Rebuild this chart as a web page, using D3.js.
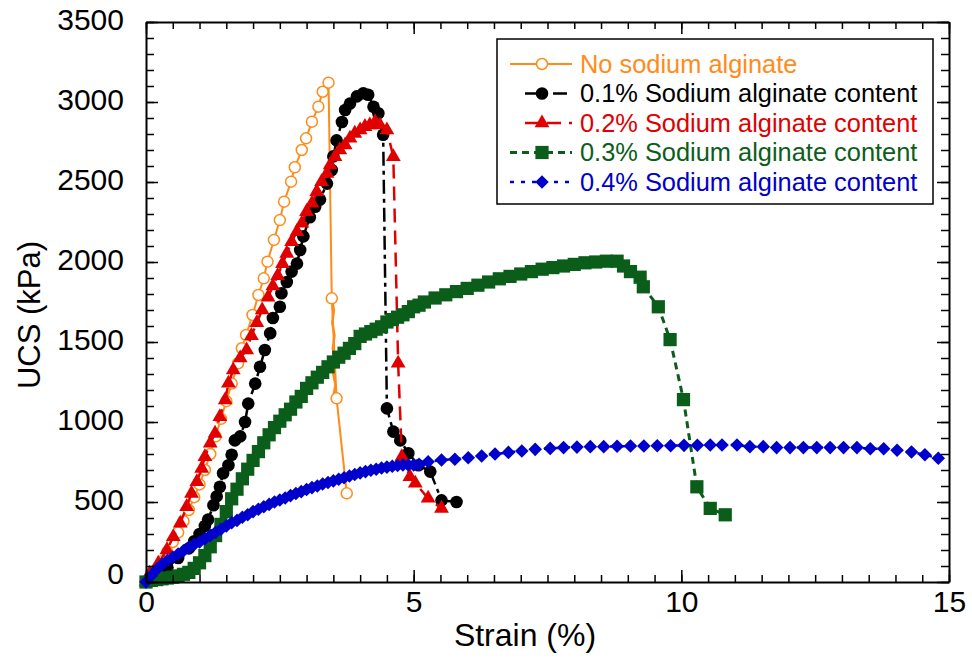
<!DOCTYPE html>
<html>
<head>
<meta charset="utf-8">
<script src="https://cdn.jsdelivr.net/npm/d3@7"></script>
<style>
  body { margin: 0; background: #fff; }
  svg text { font-family: "Liberation Sans", Arial, sans-serif; }
</style>
</head>
<body>
<div id="plot"></div>
<script>
// values: strain (%) and UCS (kPa)
var noSaStrain = [0,0.1,0.2,0.3,0.4,0.5,0.6,0.7,0.8,0.9,1.0,1.1,1.2,1.3,1.4,1.5,1.6,1.72,1.79,1.87,1.99,2.10,2.20,2.27,2.39,2.50,2.58,2.71,2.78,2.91,2.99,3.10,3.22,3.30,3.41,3.47,3.56,3.75];
var noSaUcs    = [0,35,80,130,190,250,310,380,450,530,610,700,800,910,1020,1130,1240,1367,1461,1544,1669,1794,1898,2002,2138,2262,2377,2502,2592,2700,2773,2877,2971,3064,3121,1773,1148,554];
// the fast unloading part after the peak (line only, no symbols)
var noSaDropStrain = [3.47,3.51,3.48,3.52,3.49,3.53,3.50,3.54,3.51,3.56];
var noSaDropUcs    = [1773,1700,1620,1540,1460,1380,1300,1230,1180,1148];

var sa01Strain = [0,0.2,0.4,0.6,0.8,0.9,1.0,1.1,1.16,1.26,1.32,1.38,1.44,1.54,1.60,1.66,1.76,1.85,1.91,2.04,2.13,2.22,2.32,2.37,2.50,2.53,2.63,2.72,2.82,2.88,2.94,3.06,3.16,3.25,3.38,3.47,3.50,3.56,3.66,3.72,3.81,3.94,4.06,4.15,4.25,4.34,4.43,4.50,4.62,4.75,4.90,5.09,5.31,5.52,5.80];
var sa01Ucs    = [0,40,90,150,210,255,300,350,390,480,535,595,680,730,795,885,910,1000,1115,1240,1345,1450,1555,1650,1720,1805,1875,1940,1990,2075,2160,2280,2345,2390,2490,2575,2660,2760,2875,2950,2990,3035,3055,3045,2970,2930,2795,1085,940,885,805,730,690,510,500];

var sa02Strain = [0,0.07,0.23,0.39,0.51,0.64,0.76,0.85,0.95,1.04,1.10,1.20,1.29,1.38,1.48,1.54,1.63,1.76,1.88,1.97,2.07,2.17,2.28,2.37,2.46,2.55,2.63,2.72,2.82,2.91,3.00,3.10,3.19,3.28,3.38,3.44,3.53,3.62,3.72,3.81,3.90,4.00,4.09,4.18,4.28,4.37,4.50,4.62,4.71,4.78,4.93,5.03,5.27,5.52];
var sa02Ucs    = [0,54,117,200,283,367,471,554,627,710,783,867,929,1033,1138,1242,1325,1400,1450,1540,1620,1700,1780,1850,1915,1990,2054,2127,2190,2242,2315,2367,2440,2502,2554,2606,2658,2700,2731,2773,2804,2825,2846,2856,2877,2856,2825,2658,1367,783,658,617,523,460];

var sa03Strain = [0,0.1,0.2,0.3,0.4,0.5,0.6,0.7,0.8,0.9,1.0,1.1,1.2,1.3,1.4,1.5,1.6,1.7,1.8,1.9,2.0,2.1,2.2,2.3,2.4,2.5,2.6,2.7,2.8,2.9,3.0,3.1,3.2,3.3,3.4,3.5,3.6,3.7,3.8,3.9,4.0,4.1,4.2,4.3,4.4,4.5,4.6,4.7,4.8,4.9,5.0,5.1,5.2,5.4,5.6,5.8,6.0,6.2,6.4,6.6,6.8,7.0,7.2,7.4,7.6,7.8,8.0,8.2,8.4,8.6,8.8,8.92,9.05,9.23,9.29,9.57,9.79,10.04,10.29,10.54,10.82];
var sa03Ucs    = [0,10,15,20,25,30,38,48,60,85,120,165,220,290,360,440,520,580,645,705,760,815,870,920,965,1005,1045,1080,1125,1160,1210,1245,1280,1310,1345,1375,1405,1430,1460,1490,1535,1550,1565,1580,1595,1625,1640,1655,1670,1690,1720,1730,1750,1775,1795,1815,1835,1855,1875,1895,1910,1925,1940,1955,1965,1975,1985,1995,2000,2005,2005,1975,1940,1905,1845,1720,1515,1140,595,460,420];

var sa04Strain = [0,0.1,0.2,0.3,0.4,0.5,0.6,0.7,0.8,0.9,1.0,1.1,1.2,1.3,1.4,1.5,1.6,1.7,1.8,1.9,2.0,2.1,2.2,2.3,2.4,2.5,2.6,2.7,2.8,2.9,3.0,3.1,3.2,3.3,3.4,3.5,3.6,3.7,3.8,3.9,4.0,4.1,4.2,4.3,4.4,4.5,4.6,4.7,4.8,4.9,5.0,5.1,5.27,5.52,5.77,6.02,6.27,6.52,6.77,7.02,7.27,7.55,7.8,8.05,8.3,8.55,8.8,9.05,9.3,9.55,9.8,10.05,10.3,10.54,10.76,11.04,11.28,11.53,11.78,12.03,12.28,12.53,12.78,13.03,13.28,13.53,13.78,14.03,14.3,14.55,14.8];
var sa04Ucs    = [0,40,80,110,135,155,175,195,215,235,250,270,290,310,330,350,370,385,405,420,440,455,470,485,500,512,525,540,553,565,578,590,600,612,622,632,642,652,662,672,682,690,698,705,712,718,724,728,731,731,731,735,752,762,767,777,788,800,810,819,829,835,840,843,846,846,848,850,850,852,852,854,855,856,856,856,846,846,840,840,840,840,840,840,840,833,833,824,813,795,773];

var seriesNames = ["No sodium alginate", "0.1% Sodium alginate content", "0.2% Sodium alginate content", "0.3% Sodium alginate content", "0.4% Sodium alginate content"];
var xTicks = [0, 5, 10, 15];
var yTicks = [0, 500, 1000, 1500, 2000, 2500, 3000, 3500];

var W = 972, H = 659;
var margin = {t:22, r:23, b:77, l:146};

var svg = d3.select('#plot').append('svg')
  .attr('width', W)
  .attr('height', H);

var x = d3.scaleLinear().domain([0, 15]).range([margin.l, W - margin.r]);
var y = d3.scaleLinear().domain([0, 3500]).range([H - margin.b, margin.t]);

var series = [
  {name: seriesNames[0], xs: noSaStrain, ys: noSaUcs, color: '#ff8c1a', dash: null, width: 2, shape: 'circleOpen'},
  {name: seriesNames[1], xs: sa01Strain, ys: sa01Ucs, color: '#000000', dash: '14,5,4,5', width: 2.5, shape: 'circle'},
  {name: seriesNames[2], xs: sa02Strain, ys: sa02Ucs, color: '#e00000', dash: '14,8', width: 2.5, shape: 'triangle'},
  {name: seriesNames[3], xs: sa03Strain, ys: sa03Ucs, color: '#0b5e1a', dash: '7,5', width: 3, shape: 'square'},
  {name: seriesNames[4], xs: sa04Strain, ys: sa04Ucs, color: '#0000cc', dash: '4,7', width: 2.5, shape: 'diamond'}
];

function markerPath(shape) {
  if (shape == 'circle') return d3.symbol(d3.symbolCircle, 125)();
  if (shape == 'circleOpen') return d3.symbol(d3.symbolCircle, 95)();
  if (shape == 'triangle') return d3.symbol(d3.symbolTriangle, 95)();
  if (shape == 'square') return d3.symbol(d3.symbolSquare, 175)();
  return d3.symbol(d3.symbolSquare, 92)();
}

function drawMarker(g, s, px, py) {
  var m = g.append('path')
    .attr('d', markerPath(s.shape))
    .attr('transform', 'translate(' + px + ',' + py + ')' + (s.shape == 'diamond' ? ' rotate(45)' : ''));
  if (s.shape == 'circleOpen') {
    m.style('fill', '#fff').style('stroke', s.color).style('stroke-width', 1.5);
  } else {
    m.style('fill', s.color);
  }
}

var line = d3.line().x(function(d){ return x(d[0]); }).y(function(d){ return y(d[1]); });

// curves
series.forEach(function(s, k) {
  var pts = s.xs.map(function(v, i){ return [v, s.ys[i]]; });
  var g = svg.append('g');
  g.append('path')
    .attr('d', line(pts))
    .style('fill', 'none')
    .style('stroke', s.color)
    .style('stroke-width', s.width)
    .style('stroke-dasharray', s.dash);
  if (k == 0) {
    var drop = noSaDropStrain.map(function(v, i){ return [v, noSaDropUcs[i]]; });
    g.append('path')
      .attr('d', line(drop))
      .style('fill', 'none')
      .style('stroke', s.color)
      .style('stroke-width', 2.5);
  }
  pts.forEach(function(p){ drawMarker(g, s, x(p[0]), y(p[1])); });
});

// frame and ticks (inward on all four sides)
var xMinor = d3.range(0, 15.01, 0.5);
var yMinor = d3.range(0, 3501, 100);

function styleAxis(g) {
  g.selectAll('path').style('stroke', '#000').style('stroke-width', 2);
  g.selectAll('line').style('stroke', '#000').style('stroke-width', 1.5);
}

var gb = svg.append('g').attr('transform', 'translate(0,' + y(0) + ')')
  .call(d3.axisBottom(x).tickValues(xTicks).tickSizeInner(-12).tickSizeOuter(0).tickPadding(9).tickFormat(d3.format('d')));
gb.append('g').call(d3.axisBottom(x).tickValues(xMinor).tickSize(-7).tickFormat('')).select('.domain').remove();
gb.selectAll('text').style('font-size', '30px').style('fill', '#000');
styleAxis(gb);

var gt = svg.append('g').attr('transform', 'translate(0,' + y(3500) + ')')
  .call(d3.axisTop(x).tickValues(xTicks).tickSizeInner(-12).tickSizeOuter(0).tickFormat(''));
gt.append('g').call(d3.axisTop(x).tickValues(xMinor).tickSize(-7).tickFormat('')).select('.domain').remove();
styleAxis(gt);

var gl = svg.append('g').attr('transform', 'translate(' + x(0) + ',0)')
  .call(d3.axisLeft(y).tickValues(yTicks).tickSizeInner(-12).tickSizeOuter(0).tickPadding(22).tickFormat(d3.format('d')));
gl.append('g').call(d3.axisLeft(y).tickValues(yMinor).tickSize(-8).tickFormat('')).select('.domain').remove();
gl.selectAll('text').style('font-size', '30px').style('fill', '#000').attr('dy', function(d){ return d == 0 ? '0.05em' : '0.24em'; });
styleAxis(gl);

var gr = svg.append('g').attr('transform', 'translate(' + x(15) + ',0)')
  .call(d3.axisRight(y).tickValues(yTicks).tickSizeInner(-12).tickSizeOuter(0).tickFormat(''));
gr.append('g').call(d3.axisRight(y).tickValues(yMinor).tickSize(-8).tickFormat('')).select('.domain').remove();
styleAxis(gr);

svg.selectAll('.tick text').attr('font-family', null);

// axis titles
svg.append('text')
  .attr('x', 525)
  .attr('y', 646)
  .attr('text-anchor', 'middle')
  .style('font-size', '32px')
  .text('Strain (%)');

svg.append('text')
  .attr('transform', 'translate(40,315) rotate(-90)')
  .attr('text-anchor', 'middle')
  .style('font-size', '31px')
  .text('UCS (kPa)');

// legend
var lg = svg.append('g');
lg.append('rect')
  .attr('x', 497).attr('y', 39)
  .attr('width', 436).attr('height', 165)
  .style('fill', '#fff')
  .style('stroke', '#000')
  .style('stroke-width', 1.5);

var lineStart = [510, 525, 525, 510, 510];
series.forEach(function(s, i) {
  var ly = 64 + i * 29.5;
  lg.append('line')
    .attr('x1', lineStart[i]).attr('x2', 572)
    .attr('y1', ly).attr('y2', ly)
    .style('stroke', s.color)
    .style('stroke-width', s.width)
    .style('stroke-dasharray', s.dash);
  drawMarker(lg, s, 542, ly);
  lg.append('text')
    .attr('x', 580).attr('y', ly)
    .attr('dy', '0.35em')
    .style('font-size', '25.4px')
    .style('fill', s.color)
    .text(s.name);
});
</script>
</body>
</html>
